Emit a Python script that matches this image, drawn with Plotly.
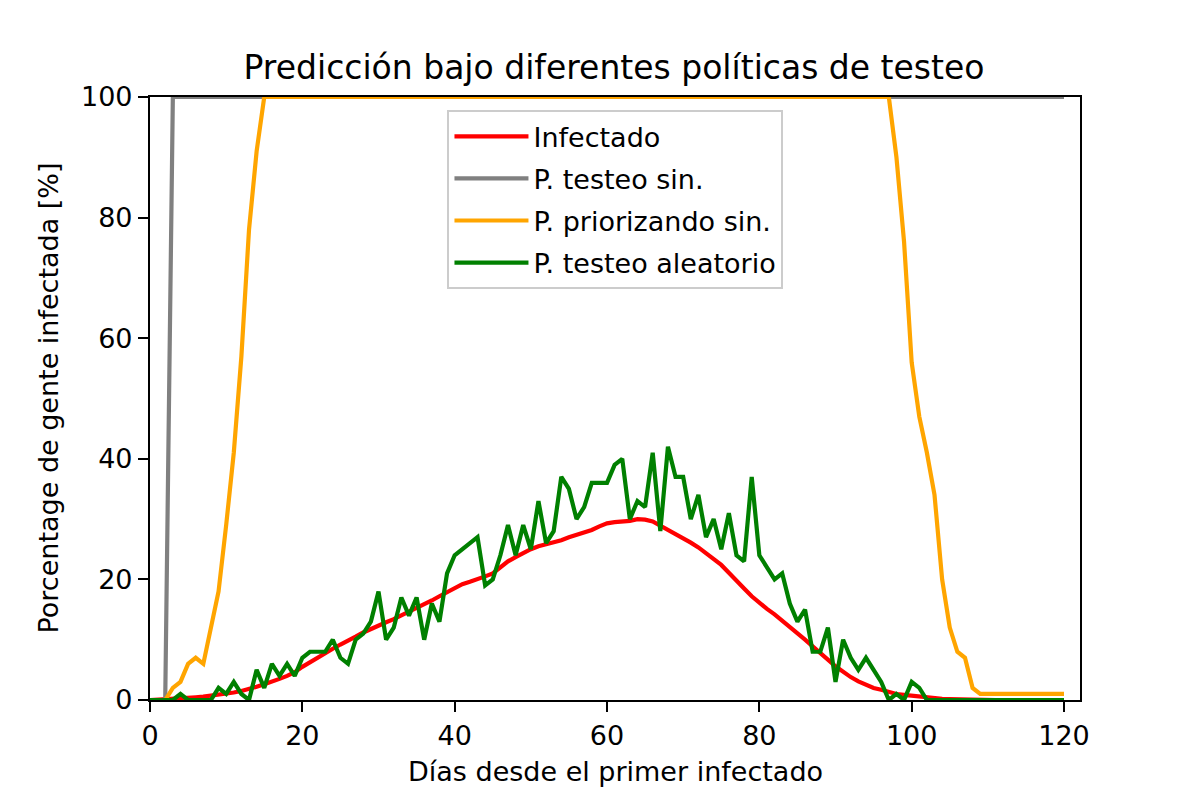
import plotly.graph_objects as go

days = list(range(0, 121))

infectado = [0, 0.05, 0.1, 0.15, 0.25, 0.35, 0.45, 0.55, 0.7, 0.85,
             1.0, 1.25, 1.5, 1.8, 2.2, 2.6, 3.0, 3.5, 4.0, 4.6,
             5.5, 6.3, 7.1, 7.8, 8.5, 9.2, 9.8, 10.5, 11.2, 11.8,
             12.4, 12.9, 13.4, 14.0, 14.6, 15.3, 15.9, 16.5, 17.2, 17.9,
             18.6, 19.2, 19.6, 20.0, 20.5, 21.0, 22.0, 23.0, 23.7, 24.4,
             25.0, 25.5, 25.8, 26.1, 26.5, 27.0, 27.4, 27.8, 28.2, 28.8,
             29.3, 29.5, 29.6, 29.7, 30.0, 29.9, 29.6, 28.9, 28.2, 27.5,
             26.9, 26.1, 25.3, 24.4, 23.4, 22.4, 21.1, 19.9, 18.5, 17.2,
             16.1, 15.1, 14.2, 13.2, 12.1, 11.1, 10.0, 8.9, 7.9, 6.7,
             5.6, 4.6, 3.8, 3.1, 2.5, 2.0, 1.7, 1.3, 1.0, 0.85,
             0.7, 0.55, 0.4, 0.3, 0.2, 0.15, 0.1, 0.05, 0, 0,
             0, 0, 0, 0, 0, 0, 0, 0, 0, 0, 0]

testeo_sin = [0, 0, 0] + [100] * 118

priorizando_sin = ([0, 0, 0, 2, 3, 6, 7, 6, 12, 18, 29, 41, 57, 78, 91]
                   + [100] * 83
                   + [90, 76, 56, 47, 41, 34, 20, 12, 8, 7, 2]
                   + [1] * 12)

testeo_aleatorio = [0, 0, 0, 0, 1, 0, 0, 0, 0, 2,
                    1, 3, 1, 0, 5, 2, 6, 4, 6, 4,
                    7, 8, 8, 8, 10, 7, 6, 10, 11, 13,
                    18, 10, 12, 17, 14, 17, 10, 16, 13, 21,
                    24, 25, 26, 27, 19, 20, 24, 29, 24, 29,
                    25, 33, 26, 28, 37, 35, 30, 32, 36, 36,
                    36, 39, 40, 30, 33, 32, 41, 28, 42, 37,
                    37, 30, 34, 27, 30, 25, 31, 24, 23, 37,
                    24, 22, 20, 21, 16, 13, 15, 8, 8, 12,
                    3, 10, 7, 5, 7, 5, 3, 0, 1, 0,
                    3, 2] + [0] * 19

series = [
    ("Infectado", infectado, "#ff0000"),
    ("P. testeo sin.", testeo_sin, "#808080"),
    ("P. priorizando sin.", priorizando_sin, "#ffa500"),
    ("P. testeo aleatorio", testeo_aleatorio, "#008000"),
]

FONT = "DejaVu Sans"

fig = go.Figure()
for i, (name, vals, col) in enumerate(series):
    fig.add_trace(go.Scatter(x=days, y=vals, mode="lines", name=name,
                             legendgroup=f"g{i}",
                             line=dict(color=col, width=4.2)))

axis_common = dict(showline=True, mirror=True, linecolor="black", linewidth=2.2,
                   ticks="outside", ticklen=10, tickwidth=2.2, tickcolor="black",
                   showgrid=False, zeroline=False,
                   tickfont=dict(family=FONT, size=27, color="black"))

fig.update_xaxes(range=[0, 122.1], tickvals=[0, 20, 40, 60, 80, 100, 120], **axis_common)
fig.update_yaxes(range=[0, 100], tickvals=[0, 20, 40, 60, 80, 100], **axis_common)

fig.update_layout(
    width=1200, height=800,
    margin=dict(l=142, r=128, t=89, b=108),
    plot_bgcolor="white", paper_bgcolor="white",
    font=dict(family=FONT, color="black"),
    title=dict(text="Predicción bajo diferentes políticas de testeo",
               x=0.505, xanchor="center", y=1 - 59 / 800, yanchor="middle",
               font=dict(family=FONT, size=33, color="black")),
    legend=dict(x=0.5005, xanchor="center", y=0.978, yanchor="top",
                bgcolor="rgba(255,255,255,0.8)", bordercolor="#cccccc", borderwidth=2,
                itemwidth=74, tracegroupgap=4,
                font=dict(family=FONT, size=27, color="black")),
    annotations=[
        dict(text="Días desde el primer infectado", xref="paper", yref="paper",
             x=0.5, y=(700 - 771) / 603, xanchor="center", yanchor="middle",
             showarrow=False, font=dict(family=FONT, size=27, color="black")),
        dict(text="Porcentage de gente infectada [%]", xref="paper", yref="paper",
             x=(48 - 150) / 930, y=0.5, xanchor="center", yanchor="middle",
             textangle=-90, showarrow=False, font=dict(family=FONT, size=27, color="black")),
    ],
)

fig.write_html("out.html")
